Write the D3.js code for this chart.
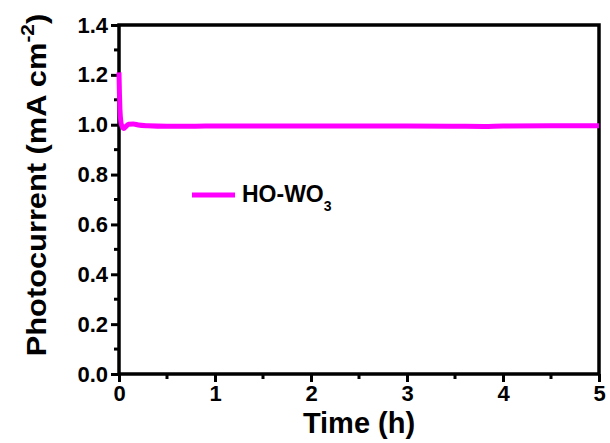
<!DOCTYPE html>
<html><head><meta charset="utf-8">
<script src="https://cdn.jsdelivr.net/npm/d3@7"></script>
<style>body{margin:0;background:#fff}svg{display:block}text{font-family:"Liberation Sans",Arial,sans-serif;font-weight:bold;fill:#000}</style>
</head><body>
<script>
const timeH = [0, 0.005, 0.01, 0.02, 0.03, 0.04, 0.05, 0.07, 0.1, 0.15, 0.2, 0.3, 0.5, 0.8, 1, 1.5, 2, 2.5, 3, 3.5, 3.8, 4, 4.5, 5];
const photocurrent = [1.21, 1.12, 1.06, 1.01, 0.995, 0.988, 0.985, 0.992, 1.002, 1.003, 0.999, 0.996, 0.994, 0.994, 0.995, 0.995, 0.995, 0.995, 0.995, 0.994, 0.993, 0.995, 0.996, 0.996];
const xTicks = [0, 1, 2, 3, 4, 5];
const yTicks = [0.0, 0.2, 0.4, 0.6, 0.8, 1.0, 1.2, 1.4];
const seriesName = "HO-WO";

const W = 610, H = 443;
const m = {l: 119, r: 11, t: 25, b: 69};
const svg = d3.select("body").append("svg").attr("width", W).attr("height", H);
const x = d3.scaleLinear().domain([0, 5]).range([m.l, W - m.r]);
const y = d3.scaleLinear().domain([0, 1.4]).range([H - m.b, m.t]);

// minor ticks
const xMinor = d3.range(0.5, 5, 1);
const yMinor = d3.range(0.1, 1.4, 0.2);
svg.append("g").selectAll("line").data(xMinor).join("line")
  .attr("x1", d => x(d)).attr("x2", d => x(d)).attr("y1", y(0)).attr("y2", y(0) + 5)
  .attr("stroke", "#000").attr("stroke-width", 3);
svg.append("g").selectAll("line").data(yMinor).join("line")
  .attr("y1", d => y(d)).attr("y2", d => y(d)).attr("x1", x(0)).attr("x2", x(0) - 5)
  .attr("stroke", "#000").attr("stroke-width", 3);

const xAxis = svg.append("g").attr("transform", `translate(0,${y(0)})`)
  .call(d3.axisBottom(x).tickValues(xTicks).tickFormat(d3.format("d")).tickSize(8).tickPadding(3));
const yAxis = svg.append("g").attr("transform", `translate(${x(0)},0)`)
  .call(d3.axisLeft(y).tickValues(yTicks).tickFormat(d3.format(".1f")).tickSize(8).tickPadding(3));
[xAxis, yAxis].forEach(g => {
  g.select(".domain").remove();
  g.selectAll(".tick line").attr("stroke", "#000").attr("stroke-width", 3);
  g.selectAll(".tick text").attr("font-size", 22).attr("font-family", "Liberation Sans, Arial, sans-serif").attr("font-weight", "bold").attr("fill", "#000");
});

// frame
svg.append("rect").attr("x", x(0)).attr("y", y(1.4)).attr("width", x(5) - x(0)).attr("height", y(0) - y(1.4))
  .attr("fill", "none").attr("stroke", "#000").attr("stroke-width", 3.5);

// data line
const line = d3.line().x((d, i) => x(timeH[i])).y(d => y(d)).curve(d3.curveMonotoneX);
svg.append("path").datum(photocurrent).attr("d", line)
  .attr("fill", "none").attr("stroke", "#ff00ff").attr("stroke-width", 5);

// legend
svg.append("line").attr("x1", 192).attr("x2", 235).attr("y1", 195).attr("y2", 195)
  .attr("stroke", "#ff00ff").attr("stroke-width", 5);
const lt = svg.append("text").attr("x", 242).attr("y", 202).attr("font-size", 23);
lt.append("tspan").text(seriesName);
lt.append("tspan").attr("font-size", 14).attr("dy", 9).text("3");

// axis titles
svg.append("text").attr("x", x(2.5)).attr("y", 433).attr("text-anchor", "middle").attr("font-size", 29).text("Time (h)");
const yt = svg.append("text").attr("transform", `translate(46,185) rotate(-90) scale(1.1,1)`)
  .attr("text-anchor", "middle").attr("font-size", 28);
yt.append("tspan").text("Photocurrent (mA cm");
yt.append("tspan").attr("font-size", 19).attr("dy", -12).text("-2");
yt.append("tspan").attr("dy", 12).text(")");
</script>
</body></html>
